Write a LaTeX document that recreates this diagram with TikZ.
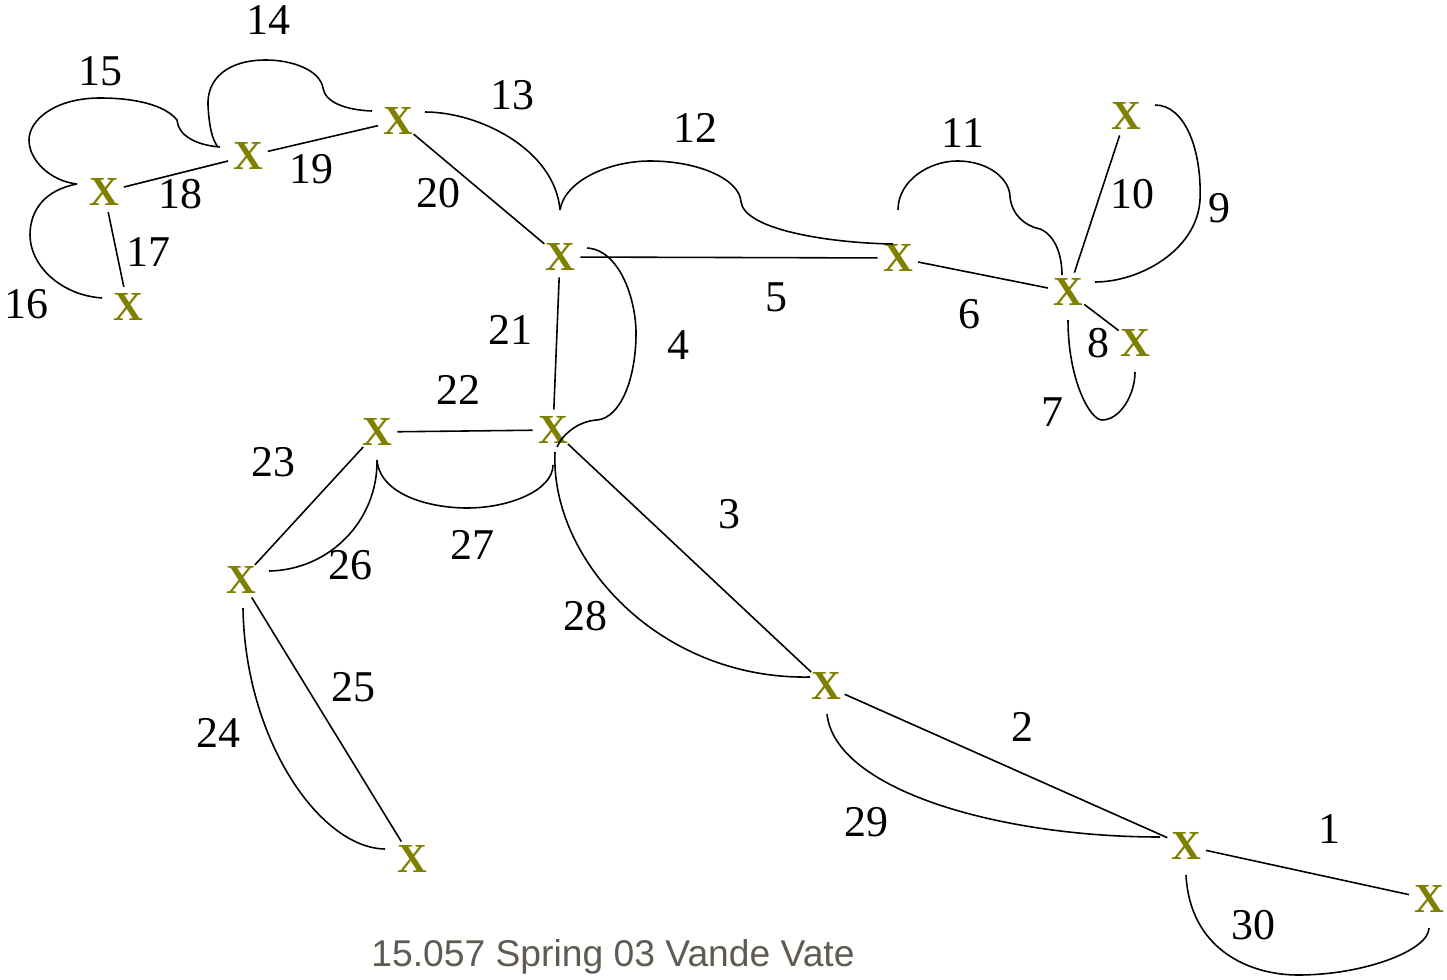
\documentclass[tikz,border=0pt]{standalone}
\usepackage{fontspec}
\setmainfont{Liberation Serif}
\newfontfamily\footfont{Liberation Sans}
\usetikzlibrary{calc}
\definecolor{xolive}{RGB}{128,128,0}
\definecolor{footgray}{RGB}{95,90,82}
\begin{document}
\begin{tikzpicture}[x=0.02cm,y=-0.02cm,
  xnode/.style={circle,minimum size=0.72cm,inner sep=0pt,text=xolive,font=\bfseries\fontsize{23.5}{23.5}\selectfont},
  lbl/.style={inner sep=0pt,font=\fontsize{25}{25}\selectfont},
  edge/.style={line width=0.9pt,black}]
\useasboundingbox (0,0) rectangle (1447,980);
% nodes
\node[xnode] (A) at (398,121) {X};
\node[xnode] (B) at (248,156) {X};
\node[xnode] (C) at (104,192) {X};
\node[xnode] (D) at (128,307) {X};
\node[xnode] (E) at (560,257) {X};
\node[xnode] (F) at (898,258) {X};
\node[xnode] (G) at (1068,292) {X};
\node[xnode] (H) at (1126,116) {X};
\node[xnode] (I) at (1135,343) {X};
\node[xnode] (J) at (553,430) {X};
\node[xnode] (K) at (377,432) {X};
\node[xnode] (L) at (241,580) {X};
\node[xnode] (M) at (412,859) {X};
\node[xnode] (N) at (826,686) {X};
\node[xnode] (O) at (1186,846) {X};
\node[xnode] (P) at (1429,899) {X};
% straight edges
\draw[edge] (A) -- (B);
\draw[edge] (B) -- (C);
\draw[edge] (C) -- (D);
\draw[edge] (A) -- (E);
\draw[edge] (E) -- (F);
\draw[edge] (F) -- (G);
\draw[edge] (G) -- (H);
\draw[edge] (G) -- (I);
\draw[edge] (E) -- (J);
\draw[edge] (J) -- (K);
\draw[edge] (K) -- (L);
\draw[edge] (L) -- (M);
\draw[edge] (J) -- (N);
\draw[edge] (N) -- (O);
\draw[edge] (O) -- (P);
% curved edges
% 14
\draw[edge] ($(A.center)+(-26,-10)$) .. controls (345,110) and (325,102) .. (323,88)
  .. controls (320,70) and (292,60) .. (266,60)
  .. controls (226,60) and (207,80) .. (208,105)
  .. controls (209,125) and (212,140) .. ($(B.center)+(-30,-9)$);
% 15
\draw[edge] ($(B.center)+(-28,-9)$) .. controls (195,145) and (178,135) .. (177,120)
  .. controls (165,105) and (135,98) .. (100,98)
  .. controls (55,98) and (29,120) .. (29,140)
  .. controls (29,160) and (50,181) .. ($(C.center)+(-27,-8)$);
% 16
\draw[edge] ($(C.center)+(-27,-8)$) .. controls (45,190) and (30,210) .. (30,235)
  .. controls (30,265) and (60,295) .. ($(D.center)+(-26,-9)$);
% 13
\draw[edge] ($(A.center)+(27,-9)$) .. controls (480,112) and (555,150) .. ($(E.center)+(0,-47)$);
% 12
\draw[edge] ($(E.center)+(0,-47)$) .. controls (565,180) and (610,161) .. (650,161)
  .. controls (700,161) and (740,180) .. (741,202)
  .. controls (745,230) and (830,243) .. ($(F.center)+(-5,-14)$);
% 11
\draw[edge] ($(F.center)+(0,-48)$) .. controls (898,180) and (930,161) .. (957,161)
  .. controls (990,161) and (1010,180) .. (1010,197)
  .. controls (1012,215) and (1025,226) .. (1040,229)
  .. controls (1055,235) and (1062,255) .. ($(G.center)+(-6,-17)$);
% 9
\draw[edge] ($(H.center)+(29,-11)$) .. controls (1185,105) and (1202,150) .. (1200,200)
  .. controls (1197,250) and (1140,282) .. ($(G.center)+(27,-10)$);
% 7
\draw[edge] ($(G.center)+(0,28)$) .. controls (1068,380) and (1090,420) .. (1102,420)
  .. controls (1120,420) and (1135,395) .. ($(I.center)+(0,29)$);
% 4
\draw[edge] ($(E.center)+(27,-9)$) .. controls (620,250) and (636,300) .. (636,333)
  .. controls (636,380) and (620,418) .. (597,420)
  .. controls (578,421) and (562,435) .. ($(J.center)+(4,17)$);
% 28
\draw[edge] ($(J.center)+(2,22)$) .. controls (550,560) and (660,680) .. ($(N.center)+(-16,-9)$);
% 27
\draw[edge] ($(K.center)+(0,28)$) .. controls (380,495) and (430,508) .. (467,508)
  .. controls (510,508) and (553,490) .. ($(J.center)+(0,35)$);
% 26
\draw[edge] ($(K.center)+(0,28)$) .. controls (378,520) and (330,570) .. ($(L.center)+(28,-9)$);
% 24
\draw[edge] ($(L.center)+(2,28)$) .. controls (245,740) and (320,848) .. ($(M.center)+(-27,-10)$);
% 29
\draw[edge] ($(N.center)+(1,28)$) .. controls (835,790) and (1000,837) .. ($(O.center)+(-26,-9)$);
% 30
\draw[edge] ($(O.center)+(0,29)$) .. controls (1190,950) and (1250,975) .. (1298,975)
  .. controls (1365,975) and (1429,950) .. ($(P.center)+(0,29)$);
% labels
\node[lbl] (l1) at (1329,829) {1};
\node[lbl] (l2) at (1022,727) {2};
\node[lbl] (l3) at (729,514) {3};
\node[lbl] (l4) at (678,345) {4};
\node[lbl] (l5) at (776,297) {5};
\node[lbl] (l6) at (969,314) {6};
\node[lbl] (l7) at (1052,412) {7};
\node[lbl] (l8) at (1098,343) {8};
\node[lbl] (l9) at (1219,208) {9};
\node[lbl] (l10) at (1132,194) {10};
\node[lbl] (l11) at (963,133) {11};
\node[lbl] (l12) at (695,128) {12};
\node[lbl] (l13) at (512,95) {13};
\node[lbl] (l14) at (268,20) {14};
\node[lbl] (l15) at (100,71) {15};
\node[lbl] (l16) at (26,304) {16};
\node[lbl] (l17) at (148,252) {17};
\node[lbl] (l18) at (180,194) {18};
\node[lbl] (l19) at (311,169) {19};
\node[lbl] (l20) at (438,193) {20};
\node[lbl] (l21) at (510,330) {21};
\node[lbl] (l22) at (458,390) {22};
\node[lbl] (l23) at (273,462) {23};
\node[lbl] (l24) at (218,733) {24};
\node[lbl] (l25) at (353,687) {25};
\node[lbl] (l26) at (350,565) {26};
\node[lbl] (l27) at (472,545) {27};
\node[lbl] (l28) at (585,616) {28};
\node[lbl] (l29) at (866,822) {29};
\node[lbl] (l30) at (1253,925) {30};
% footer
\node[inner sep=0pt,anchor=base,text=footgray,font=\footfont\fontsize{21.2}{21.2}\selectfont] (footer) at (613,966) {15.057 Spring 03 Vande Vate};
\end{tikzpicture}
\end{document}
